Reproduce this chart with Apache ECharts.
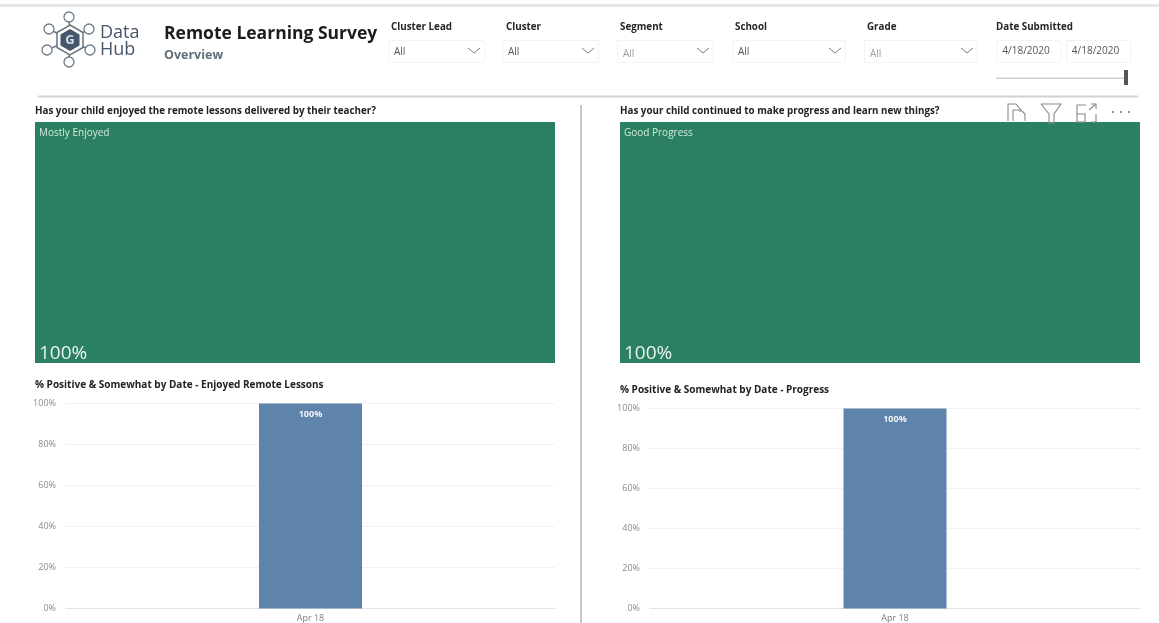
<!DOCTYPE html>
<html><head><meta charset="utf-8">
<style>html,body{margin:0;padding:0;background:#fff}#c{width:1159px;height:623px;filter:blur(0.5px)}</style>
<script src="https://cdn.jsdelivr.net/npm/echarts@6/dist/echarts.min.js"></script>
</head><body><div id="c"></div>
<script>
const dates = ['Apr 18'];
const enjoyedValues = [100];
const progressValues = [100];
const enjoyedCategory = 'Mostly Enjoyed';
const progressCategory = 'Good Progress';
const enjoyedShare = [100];
const progressShare = [100];
const yTicks = [0,20,40,60,80,100];
const slicerNames = ['Cluster Lead','Cluster','Segment','School','Grade'];
const slicerValues = ['All','All','All','All','All'];
const dateRange = ['4/18/2020','4/18/2020'];

const font = '"Open Sans","Noto Sans",sans-serif';
const green = '#2a8060', blue = '#5f84ac';
const chart = echarts.init(document.getElementById('c'), null, {renderer:'canvas'});

const txt = (x,y,t,size,color,weight,extra) => ({type:'text',x,y,z:20,style:Object.assign({text:t,font:`${weight||'normal'} ${size}px ${font}`,fill:color,textVerticalAlign:'middle'},extra||{})});
const rect = (x,y,w,h,fill,stroke) => ({type:'rect',z:5,shape:{x,y,width:w,height:h},style:{fill,stroke:stroke||null,lineWidth:stroke?1:0}});
const line = (x1,y1,x2,y2,stroke,lw) => ({type:'line',z:6,shape:{x1,y1,x2,y2},style:{stroke,lineWidth:lw||1}});
const poly = (pts,stroke,lw,fill) => ({type:'polyline',z:21,shape:{points:pts},style:{stroke,lineWidth:lw||1,fill:fill||null}});

const els = [];
els.push(rect(0,4,1159,3,'#e6e6e6'));
els.push(rect(38,95.5,1100,2,'#d2d2d2'));
els.push(rect(580,105,2,518,'#c9c9c9'));

// logo
const nodes = [[69,17],[49,29],[89,29],[47,50],[90,50],[69,62]];
nodes.forEach(n=>{
  els.push(line(70,40,n[0],n[1],'#6d7c88',1.5));
});
nodes.forEach(n=>{
  els.push({type:'circle',z:7,shape:{cx:n[0],cy:n[1],r:5},style:{fill:'#fff',stroke:'#6d7c88',lineWidth:1.3}});
});
const hex = (cx,cy,r)=>[0,1,2,3,4,5].map(i=>[cx+r*Math.sin(i*Math.PI/3),cy-r*Math.cos(i*Math.PI/3)]);
els.push({type:'polygon',z:8,shape:{points:hex(70,40,15)},style:{fill:'#fff',stroke:'#66757f',lineWidth:1.5}});
els.push({type:'polygon',z:9,shape:{points:hex(70,40,11)},style:{fill:'#43566a'}});
els.push(txt(70,40.5,'G',13,'#d8dde2','bold',{textAlign:'center'}));
els.push(txt(100,33,'Data',18,'#43566a'));
els.push(txt(100,50,'Hub',18,'#43566a'));

els.push(txt(164,34,'Remote Learning Survey',17.5,'#1c1c1c','bold'));
els.push(txt(164,55,'Overview',12.5,'#5f6f76','bold'));

// slicers
const slicerX = [388,502,617,732,864];
const slicerW = [96,96,96,113,113];
const slicerLabelX = [391,506,620,735,867];
const slicerY = [40,40,40,40,40];
const slicerGrey = [false,false,true,false,true];
slicerNames.forEach((n,i)=>{
  const x = slicerX[i], w = slicerW[i];
  els.push(txt(slicerLabelX[i],27.5,n,9.8,'#252525','bold'));
  els.push(rect(x+.5,slicerY[i]+.5,w,22,'#fff','#f3f3f3'));
  els.push(txt(x+6,slicerGrey[i]?54:52.5,slicerValues[i],10,slicerGrey[i]?'#9b9b9b':'#555'));
  const ax = x+w-10, ay = 49;
  els.push(poly([[ax-6,ay-1],[ax,ay+4],[ax+6,ay-1]],'#7a7a7a',1));
});
els.push(txt(996,27.5,'Date Submitted',9.8,'#252525','bold'));
els.push(rect(996.5,40.5,64,22,'#fff','#f3f3f3'));
els.push(rect(1066.5,40.5,64,22,'#fff','#f3f3f3'));
els.push(txt(1026,51.5,dateRange[0],10,'#555',null,{textAlign:'center'}));
els.push(txt(1095.5,51.5,dateRange[1],10,'#555',null,{textAlign:'center'}));
els.push(rect(996,77.5,130,1.5,'#cfcfcf'));
els.push(rect(1124,70,4,15,'#555'));

// header icons
els.push(poly([[1008,121],[1008,104],[1016,104],[1020,109],[1020,112]],'#8a8a8a',1.1));
els.push(poly([[1013,121],[1013,110],[1021,110],[1025,114],[1025,121]],'#8a8a8a',1.1));
els.push(poly([[1041,104],[1061,104],[1054,114],[1054,123],[1049,123],[1049,114],[1041,104]],'#8a8a8a',1.1));
els.push(poly([[1086,105],[1077,105],[1077,122],[1085,122],[1085,114],[1077,114]],'#8a8a8a',1.1));
els.push(poly([[1089,110],[1096,104]],'#8a8a8a',1.1));
els.push(poly([[1091,104],[1096,104],[1096,109]],'#8a8a8a',1.1));
els.push(poly([[1096,114],[1096,122],[1091,122]],'#8a8a8a',1.1));
[1113,1121,1129].forEach(x=>els.push({type:'circle',z:21,shape:{cx:x,cy:112,r:1.1},style:{fill:'#777'}}));

// question headings
els.push(txt(35,111,'Has your child enjoyed the remote lessons delivered by their teacher?',9.8,'#222','bold'));
els.push(txt(620,111,'Has your child continued to make progress and learn new things?',9.8,'#222','bold'));
// big percent
els.push(txt(39,353.5,enjoyedShare[0]+'%',19,'#e8f4ee'));
els.push(txt(624,353.5,progressShare[0]+'%',19,'#e8f4ee'));

const treemap = (name,val,left) => ({
  type:'treemap',left,top:122,width:520,height:241,roam:false,nodeClick:false,
  breadcrumb:{show:false},silent:true,animation:false,
  itemStyle:{borderWidth:0,gapWidth:0},
  label:{show:true,position:'insideTopLeft',distance:0,padding:[6,4],color:'#d5e8df',fontSize:10,fontFamily:font,formatter:'{b}'},
  data:[{name,value:val,itemStyle:{color:green,borderWidth:0}}]
});
const gridCfg = [{left:66,right:1159-555,top:403.5,bottom:623-608.5},{left:650,right:19,top:408.5,bottom:623-608.5}];
const catAxis = i => ({type:'category',gridIndex:i,data:dates,
  axisTick:{show:false},axisLine:{show:true,lineStyle:{color:'#e4e4e4'}},
  axisLabel:{color:'#7d7d7d',fontSize:9,fontFamily:font,margin:5}});
const valAxis = i => ({type:'value',gridIndex:i,min:yTicks[0],max:yTicks[yTicks.length-1],interval:yTicks[1]-yTicks[0],
  axisLine:{show:false},axisTick:{show:false},
  splitLine:{lineStyle:{color:'#f1f1f1'}},
  axisLabel:{color:'#8a8a8a',fontSize:9,fontFamily:font,margin:10,formatter:'{value}%'}});
const bars = (i,vals) => ({type:'bar',xAxisIndex:i,yAxisIndex:i,data:vals,barWidth:103,animation:false,silent:true,
  itemStyle:{color:blue},
  label:{show:true,position:'insideTop',distance:6,color:'#f2f5f8',fontSize:9,fontWeight:'bold',fontFamily:font,formatter:'{c}%'}});

chart.setOption({
  backgroundColor:'#fff',animation:false,
  title:[
    {text:'% Positive & Somewhat by Date - Enjoyed Remote Lessons',left:35,top:380,padding:0,textStyle:{fontSize:10,fontWeight:'bold',color:'#222',fontFamily:font}},
    {text:'% Positive & Somewhat by Date - Progress',left:620,top:385,padding:0,textStyle:{fontSize:10,fontWeight:'bold',color:'#222',fontFamily:font}}
  ],
  grid:gridCfg,
  xAxis:[catAxis(0),catAxis(1)],
  yAxis:[valAxis(0),valAxis(1)],
  series:[treemap(enjoyedCategory,enjoyedValues[0],35),treemap(progressCategory,progressValues[0],620),bars(0,enjoyedValues),bars(1,progressValues)],
  graphic:{elements:els}
});
</script></body></html>
